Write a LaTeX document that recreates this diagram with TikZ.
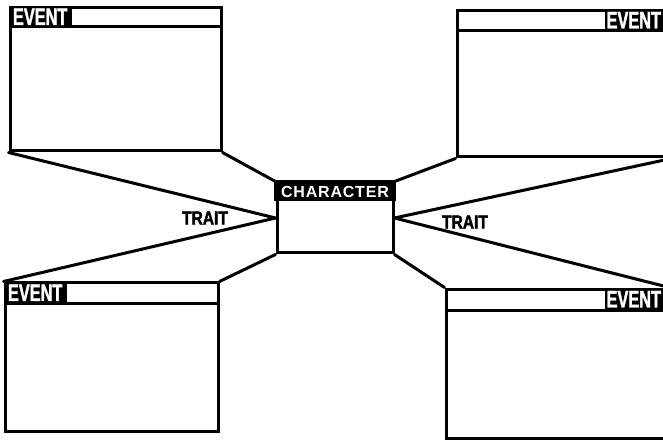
\documentclass[tikz,border=0pt]{standalone}
\usepackage{fontspec}
\newfontfamily\condf[FakeStretch=0.68,FakeBold=1.5]{Liberation Sans}
\newfontfamily\traitf[FakeStretch=0.82,FakeBold=2]{Liberation Sans}
\newfontfamily\charf[LetterSpace=5]{Liberation Sans}
\begin{document}
\begin{tikzpicture}[x=1pt,y=-1pt,
  evbox/.style={draw, rectangle, line width=3pt, inner sep=0pt},
  evlabel/.style={fill=black, text=white, rectangle, inner sep=0pt,
     minimum width=58pt, minimum height=20pt, font=\condf\bfseries\fontsize{24}{24}\selectfont},
  conn/.style={line width=3pt, line cap=round},
  traitlab/.style={font=\traitf\bfseries\fontsize{19}{19}\selectfont, inner sep=0pt}]
\useasboundingbox (0,0) rectangle (663,443);
\clip (0,0) rectangle (663,443);
\coordinate (redge) at (663,0);
% event boxes
\node[evbox, minimum width=211pt, minimum height=143pt] (tl) at (115.5,79.5) {};
\node[evbox, minimum width=213pt, minimum height=146pt] (tr) at (563.5,84) {};
\node[evbox, minimum width=213pt, minimum height=148pt] (bl) at (111.5,357) {};
\node[evbox, minimum width=222pt, minimum height=149pt] (br) at (557,363.5) {};
% header lines
\foreach \b/\h in {tl/20,tr/21,bl/22,br/23}{
  \draw[line width=2.5pt] ([yshift=-\h pt]\b.north west) -- ([yshift=-\h pt]\b.north east);
}
% event labels
\node[evlabel, anchor=north west, minimum width=63pt, minimum height=20pt] (tllab) at (tl.north west) {EVENT};
\node[evlabel, anchor=north east, minimum height=21pt] (trlab) at (tr.north -| redge) {EVENT};
\node[evlabel, anchor=north west, minimum width=63pt, minimum height=22pt] (bllab) at (bl.north west) {EVENT};
\node[evlabel, anchor=north east, minimum height=23pt] (brlab) at (br.north -| redge) {EVENT};
% character box
\node[evbox, minimum width=116pt, minimum height=70pt] (ch) at (335,218) {};
\fill ([xshift=-1.5pt,yshift=1.5pt]ch.north west) rectangle ([xshift=1.5pt,yshift=-20pt]ch.north east);
\node[text=white, inner sep=0pt, font=\charf\bfseries\fontsize{16}{16}\selectfont] (chlab) at ([yshift=-10pt]ch.north) {CHARACTER};
% connectors
\draw[conn] (tl.south west) -- (ch.west);
\draw[conn] (bl.north west) -- (ch.west);
\draw[conn] (tl.south east) -- (ch.north west);
\draw[conn] (bl.north east) -- (ch.south west);
\draw[conn] (tr.south west) -- (ch.north east);
\draw[conn] (br.north west) -- (ch.south east);
\draw[conn] (tr.south east) -- (ch.east);
\draw[conn] (br.north east) -- (ch.east);
% trait labels
\node[traitlab] (trait1) at (205,218) {TRAIT};
\node[traitlab] (trait2) at (465,222) {TRAIT};
\end{tikzpicture}
\end{document}
